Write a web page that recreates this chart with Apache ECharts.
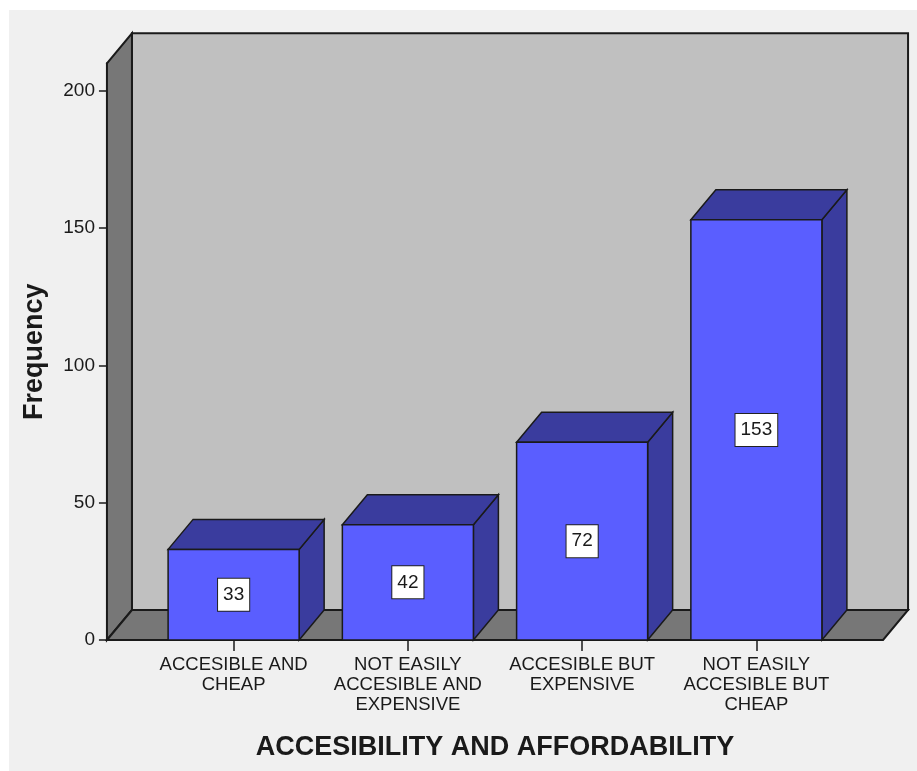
<!DOCTYPE html>
<html>
<head>
<meta charset="utf-8">
<script src="https://cdn.jsdelivr.net/npm/echarts@6/dist/echarts.min.js"></script>
<style>
  html, body { margin: 0; padding: 0; background: #ffffff; }
  #chart { width: 917px; height: 771px; }
</style>
</head>
<body>
<div id="chart"></div>
<script>
// Data
const categories = [
  'ACCESIBLE AND\nCHEAP',
  'NOT EASILY\nACCESIBLE AND\nEXPENSIVE',
  'ACCESIBLE BUT\nEXPENSIVE',
  'NOT EASILY\nACCESIBLE BUT\nCHEAP'
];
const frequencies = [33, 42, 72, 153];
const yTicks = [0, 50, 100, 150, 200];
const yMax = 210;
const xTitle = 'ACCESIBILITY AND AFFORDABILITY';
const yTitle = 'Frequency';

// Styling / layout
const FONT = '"Liberation Sans", Arial, Helvetica, sans-serif';
const GRID = { left: 146.5, top: 63.3, width: 697, height: 576.7 };
const FRAME_PAD = 0.227;      // extra floor width on each side, in category bands
const BAR_RATIO = 0.752;      // bar front width as share of a band
const DEPTH_X = 25;           // 3D depth offset (px)
const DEPTH_Y = 30;
const COL = {
  bg: '#f0f0f0',
  wall: '#c0c0c0',
  floor: '#777777',
  front: '#5a5eff',
  side: '#3a3c9e',
  edge: '#1a1a1a',
  text: '#1a1a1a'
};
const axisOffset = GRID.width / categories.length * FRAME_PAD;

// Back wall, left wall and floor of the 3D box
function renderFrame(params, api) {
  const cs = params.coordSys;
  const m = cs.width / categories.length * FRAME_PAD;
  const L = cs.x - m, R = cs.x + cs.width + m;
  const yb = api.coord([0, 0])[1];
  const yt = api.coord([0, yMax])[1];
  const dx = DEPTH_X, dy = DEPTH_Y;
  const st = (fill) => ({ fill: fill, stroke: COL.edge, lineWidth: 2, lineJoin: 'miter' });
  return {
    type: 'group',
    children: [
      { type: 'rect', shape: { x: L + dx, y: yt - dy, width: R - L, height: yb - yt }, style: st(COL.wall) },
      { type: 'polygon', shape: { points: [[L, yb], [L, yt], [L + dx, yt - dy], [L + dx, yb - dy]] }, style: st(COL.floor) },
      { type: 'polygon', shape: { points: [[L, yb], [R, yb], [R + dx, yb - dy], [L + dx, yb - dy]] }, style: st(COL.floor) }
    ]
  };
}

// One 3D bar: side face, top face, front face and value box
function renderBar(params, api) {
  const i = api.value(0), v = api.value(1);
  const base = api.coord([i, 0]);
  const top = api.coord([i, v]);
  const w = api.size([1, 0])[0] * BAR_RATIO;
  const x0 = base[0] - w / 2, x1 = base[0] + w / 2;
  const yb = base[1], yt = top[1];
  const dx = DEPTH_X, dy = DEPTH_Y;
  const st = (fill) => ({ fill: fill, stroke: COL.edge, lineWidth: 1.5, lineJoin: 'miter' });
  return {
    type: 'group',
    children: [
      { type: 'polygon', shape: { points: [[x1, yb], [x1 + dx, yb - dy], [x1 + dx, yt - dy], [x1, yt]] }, style: st(COL.side) },
      { type: 'polygon', shape: { points: [[x0, yt], [x0 + dx, yt - dy], [x1 + dx, yt - dy], [x1, yt]] }, style: st(COL.side) },
      { type: 'rect', shape: { x: x0, y: yt, width: w, height: yb - yt }, style: st(COL.front) },
      {
        type: 'text',
        x: base[0],
        y: (yb + yt) / 2,
        style: {
          text: String(v),
          align: 'center',
          verticalAlign: 'middle',
          fill: COL.text,
          font: '19px ' + FONT,
          lineHeight: 22,
          backgroundColor: '#ffffff',
          borderColor: '#222222',
          borderWidth: 1,
          padding: [5, 5, 5, 5]
        }
      }
    ]
  };
}

const chart = echarts.init(document.getElementById('chart'), null, { renderer: 'canvas' });
chart.setOption({
  backgroundColor: '#ffffff',
  animation: false,
  graphic: [{
    type: 'rect', left: 9, top: 10, z: -10,
    shape: { width: 908, height: 761 },
    style: { fill: COL.bg }
  }],
  grid: GRID,
  xAxis: {
    type: 'category',
    data: categories,
    axisLine: { show: false },
    axisTick: { show: true, alignWithLabel: true, length: 11, lineStyle: { color: COL.edge, width: 1.5 } },
    axisLabel: { interval: 0, fontSize: 18.5, lineHeight: 20, color: COL.text, fontFamily: FONT, margin: 15 },
    splitLine: { show: false },
    name: xTitle,
    nameLocation: 'middle',
    nameGap: 94,
    nameTextStyle: { fontSize: 27, fontWeight: 'bold', color: COL.text, fontFamily: FONT }
  },
  yAxis: {
    type: 'value',
    min: 0,
    max: yMax,
    offset: axisOffset,
    axisLine: { show: true, lineStyle: { color: COL.edge, width: 2 } },
    axisTick: { show: true, customValues: yTicks, length: 8, lineStyle: { color: COL.edge, width: 1.5 } },
    axisLabel: { customValues: yTicks, fontSize: 19, color: COL.text, fontFamily: FONT, margin: 12 },
    splitLine: { show: false },
    name: yTitle,
    nameLocation: 'middle',
    nameGap: 59,
    nameTextStyle: { fontSize: 27, fontWeight: 'bold', color: COL.text, fontFamily: FONT }
  },
  series: [
    {
      type: 'custom',
      silent: true,
      renderItem: renderFrame,
      data: [[0, 0]],
      z: 1
    },
    {
      type: 'custom',
      renderItem: renderBar,
      data: frequencies.map((v, i) => [i, v]),
      z: 2
    }
  ]
});
</script>
</body>
</html>
